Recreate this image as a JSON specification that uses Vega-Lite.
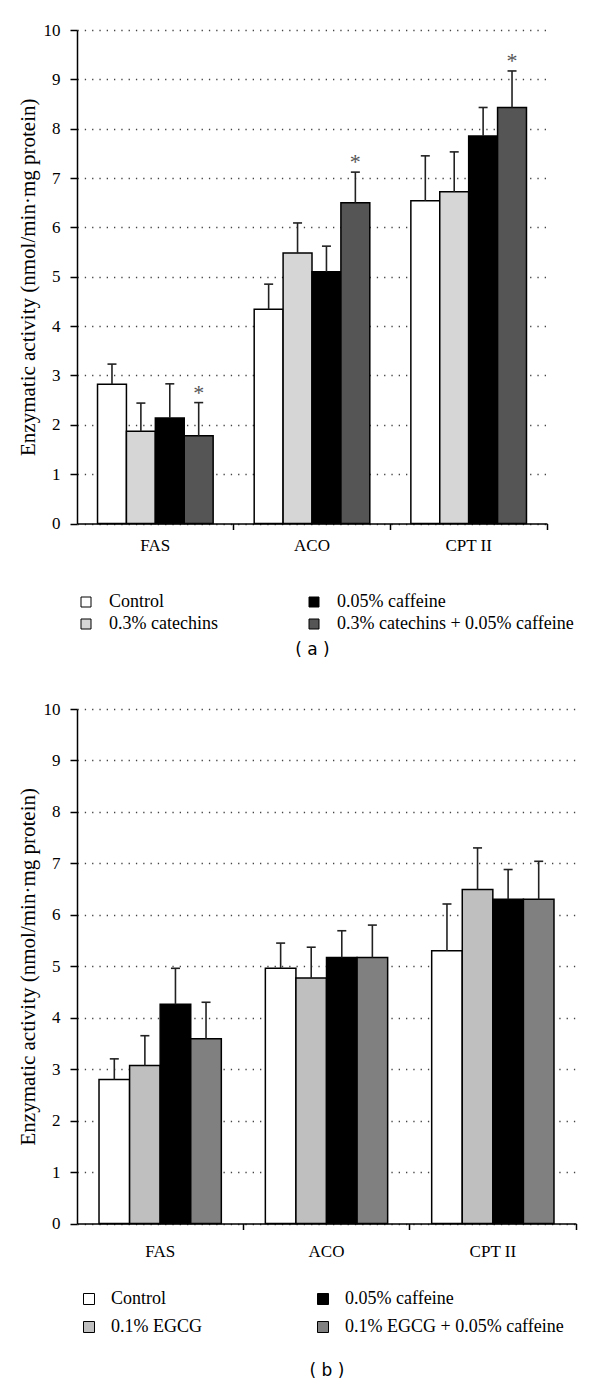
{
  "$schema": "https://vega.github.io/schema/vega-lite/v6.json",
  "background": "white",
  "padding": {"left": 17, "top": 21, "right": 5, "bottom": 5},
  "config": {
    "view": {"stroke": null},
    "font": "Liberation Serif",
    "axis": {
      "domainColor": "black", "domainWidth": 1.5, "tickColor": "black", "tickWidth": 1.5,
      "labelFont": "Liberation Serif", "labelFontSize": 17, "labelColor": "black",
      "titleFont": "Liberation Serif", "titleFontSize": 21, "titleFontWeight": "normal", "titleColor": "black"
    },
    "legend": {
      "labelFont": "Liberation Serif", "labelFontSize": 18, "labelColor": "black", "labelLimit": 400
    }
  },
  "datasets": {
    "a": [
      {"enzyme": "FAS", "group": "Control", "value": 2.82, "upper": 3.23, "sig": ""},
      {"enzyme": "FAS", "group": "0.3% catechins", "value": 1.87, "upper": 2.44, "sig": ""},
      {"enzyme": "FAS", "group": "0.05% caffeine", "value": 2.14, "upper": 2.83, "sig": ""},
      {"enzyme": "FAS", "group": "0.3% catechins + 0.05% caffeine", "value": 1.78, "upper": 2.45, "sig": "*"},
      {"enzyme": "ACO", "group": "Control", "value": 4.34, "upper": 4.85, "sig": ""},
      {"enzyme": "ACO", "group": "0.3% catechins", "value": 5.48, "upper": 6.09, "sig": ""},
      {"enzyme": "ACO", "group": "0.05% caffeine", "value": 5.10, "upper": 5.62, "sig": ""},
      {"enzyme": "ACO", "group": "0.3% catechins + 0.05% caffeine", "value": 6.50, "upper": 7.12, "sig": "*"},
      {"enzyme": "CPT II", "group": "Control", "value": 6.54, "upper": 7.45, "sig": ""},
      {"enzyme": "CPT II", "group": "0.3% catechins", "value": 6.72, "upper": 7.53, "sig": ""},
      {"enzyme": "CPT II", "group": "0.05% caffeine", "value": 7.85, "upper": 8.43, "sig": ""},
      {"enzyme": "CPT II", "group": "0.3% catechins + 0.05% caffeine", "value": 8.43, "upper": 9.17, "sig": "*"}
    ],
    "b": [
      {"enzyme": "FAS", "group": "Control", "value": 2.80, "upper": 3.20},
      {"enzyme": "FAS", "group": "0.1% EGCG", "value": 3.07, "upper": 3.65},
      {"enzyme": "FAS", "group": "0.05% caffeine", "value": 4.26, "upper": 4.96},
      {"enzyme": "FAS", "group": "0.1% EGCG + 0.05% caffeine", "value": 3.59, "upper": 4.30},
      {"enzyme": "ACO", "group": "Control", "value": 4.96, "upper": 5.45},
      {"enzyme": "ACO", "group": "0.1% EGCG", "value": 4.77, "upper": 5.37},
      {"enzyme": "ACO", "group": "0.05% caffeine", "value": 5.17, "upper": 5.69},
      {"enzyme": "ACO", "group": "0.1% EGCG + 0.05% caffeine", "value": 5.17, "upper": 5.80},
      {"enzyme": "CPT II", "group": "Control", "value": 5.30, "upper": 6.21},
      {"enzyme": "CPT II", "group": "0.1% EGCG", "value": 6.49, "upper": 7.30},
      {"enzyme": "CPT II", "group": "0.05% caffeine", "value": 6.30, "upper": 6.88},
      {"enzyme": "CPT II", "group": "0.1% EGCG + 0.05% caffeine", "value": 6.30, "upper": 7.04}
    ]
  },
  "spacing": 42,
  "resolve": {
    "scale": {"x": "independent", "y": "independent", "fill": "independent", "xOffset": "independent"},
    "legend": {"fill": "independent"},
    "axis": {"x": "independent", "y": "independent"}
  },
  "vconcat": [
    {
      "width": 470,
      "height": 493.5,
      "data": {"name": "a"},
      "encoding": {
        "x": {
          "field": "enzyme", "type": "nominal",
          "scale": {"domain": ["FAS", "ACO", "CPT II"], "paddingInner": 0, "paddingOuter": 0},
          "axis": {"title": "( a )", "titleFont": "DejaVu Sans", "titleFontSize": 17, "titlePadding": 88,
                   "labelAngle": 0, "labelPadding": 8, "tickSize": 6, "bandPosition": 1, "grid": false}
        },
        "xOffset": {
          "field": "group", "type": "nominal",
          "scale": {"domain": ["Control", "0.3% catechins", "0.05% caffeine", "0.3% catechins + 0.05% caffeine"],
                    "paddingInner": 0, "paddingOuter": 0.71}
        },
        "y": {
          "field": "value", "type": "quantitative",
          "scale": {"domain": [0, 10], "nice": false},
          "axis": {"title": "Enzymatic activity (nmol/min·mg protein)", "values": [0,1,2,3,4,5,6,7,8,9,10],
                   "grid": true, "gridDash": [1.3, 6], "gridColor": "#444", "gridWidth": 1.3,
                   "tickSize": 7, "labelPadding": 10, "titlePadding": 5}
        }
      },
      "layer": [
        {
          "mark": {"type": "bar", "stroke": "black", "strokeWidth": 1.5},
          "encoding": {
            "fill": {
              "field": "group", "type": "nominal",
              "scale": {"domain": ["Control", "0.3% catechins", "0.05% caffeine", "0.3% catechins + 0.05% caffeine"],
                        "range": ["#ffffff", "#d6d6d6", "#000000", "#555555"]},
              "legend": {"orient": "none", "legendX": 0, "legendY": 563, "columns": 2, "columnPadding": 87,
                         "rowPadding": 4, "title": null, "symbolType": "square", "symbolSize": 100,
                         "symbolStrokeColor": "black", "symbolStrokeWidth": 1, "labelOffset": 14}
            }
          }
        },
        {
          "mark": {"type": "rule", "stroke": "#222", "strokeWidth": 1.6},
          "encoding": {
            "y2": {"field": "upper"}
          }
        },
        {
          "mark": {"type": "tick", "color": "#222", "size": 9, "thickness": 1.6, "opacity": 1},
          "encoding": {
            "y": {"field": "upper", "type": "quantitative", "title": "Enzymatic activity (nmol/min·mg protein)"}
          }
        },
        {
          "transform": [{"filter": "datum.sig == '*'"}],
          "mark": {"type": "text", "font": "Liberation Serif", "fontSize": 22, "color": "#555", "baseline": "alphabetic", "dy": -3},
          "encoding": {
            "y": {"field": "upper", "type": "quantitative", "title": "Enzymatic activity (nmol/min·mg protein)"},
            "text": {"field": "sig"}
          }
        }
      ]
    },
    {
      "width": 499,
      "height": 514.5,
      "data": {"name": "b"},
      "encoding": {
        "x": {
          "field": "enzyme", "type": "nominal",
          "scale": {"domain": ["FAS", "ACO", "CPT II"], "paddingInner": 0, "paddingOuter": 0},
          "axis": {"title": "( b )", "titleFont": "DejaVu Sans", "titleFontSize": 17, "titlePadding": 103,
                   "labelAngle": 0, "labelPadding": 14, "tickSize": 6, "bandPosition": 1, "grid": false}
        },
        "xOffset": {
          "field": "group", "type": "nominal",
          "scale": {"domain": ["Control", "0.1% EGCG", "0.05% caffeine", "0.1% EGCG + 0.05% caffeine"],
                    "paddingInner": 0, "paddingOuter": 0.72}
        },
        "y": {
          "field": "value", "type": "quantitative",
          "scale": {"domain": [0, 10], "nice": false},
          "axis": {"title": "Enzymatic activity (nmol/min·mg protein)", "values": [0,1,2,3,4,5,6,7,8,9,10],
                   "grid": true, "gridDash": [1.3, 6], "gridColor": "#444", "gridWidth": 1.3,
                   "tickSize": 7, "labelPadding": 10, "titlePadding": 5}
        }
      },
      "layer": [
        {
          "mark": {"type": "bar", "stroke": "black", "strokeWidth": 1.5},
          "encoding": {
            "fill": {
              "field": "group", "type": "nominal",
              "scale": {"domain": ["Control", "0.1% EGCG", "0.05% caffeine", "0.1% EGCG + 0.05% caffeine"],
                        "range": ["#ffffff", "#bfbfbf", "#000000", "#808080"]},
              "legend": {"orient": "none", "legendX": 3, "legendY": 581, "columns": 2, "columnPadding": 112,
                         "rowPadding": 10, "title": null, "symbolType": "square", "symbolSize": 121,
                         "symbolStrokeColor": "black", "symbolStrokeWidth": 1, "labelOffset": 13}
            }
          }
        },
        {
          "mark": {"type": "rule", "stroke": "#222", "strokeWidth": 1.6},
          "encoding": {
            "y2": {"field": "upper"}
          }
        },
        {
          "mark": {"type": "tick", "color": "#222", "size": 9, "thickness": 1.6, "opacity": 1},
          "encoding": {
            "y": {"field": "upper", "type": "quantitative", "title": "Enzymatic activity (nmol/min·mg protein)"}
          }
        }
      ]
    }
  ]
}
